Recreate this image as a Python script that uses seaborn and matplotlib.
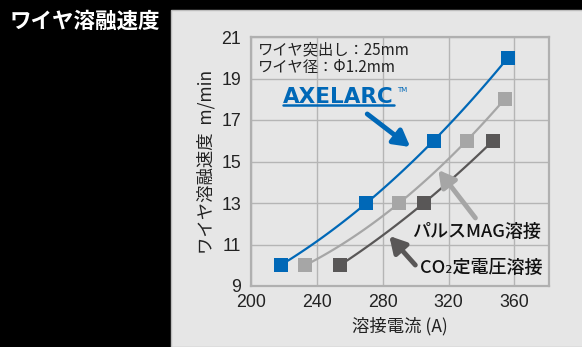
import matplotlib
matplotlib.use("Agg")
import matplotlib.pyplot as plt
import seaborn as sns
from matplotlib.patches import Rectangle

# data
current_axelarc = [218, 270, 311, 356]
speed_axelarc = [10, 13, 16, 20]
current_pulse = [233, 290, 331, 354]
speed_pulse = [10, 13, 16, 18]
current_co2 = [254, 305, 347]
speed_co2 = [10, 13, 16]

x_ticks = [200, 240, 280, 320, 360]
y_ticks = [9, 11, 13, 15, 17, 19, 21]

blue = "#0068b7"
light = "#a6a6a6"
dark = "#595757"

sns.set_theme(style="white")
plt.rcParams['font.family'] = ['Noto Sans CJK JP', 'DejaVu Sans']

fig = plt.figure(figsize=(5.82, 3.47), dpi=100, facecolor="black")
fig.patches.append(Rectangle((171 / 582, 0), 1, 337 / 347, transform=fig.transFigure,
                             facecolor="#e6e6e6", edgecolor="#bdbdbd", linewidth=1, zorder=-10))
fig.text(10 / 582, 1 - 21 / 347, "ワイヤ溶融速度", color="white", fontsize=15.5,
         fontweight="bold", va="center", ha="left")

ax = fig.add_axes([251 / 582, 61 / 347, 298 / 582, 249 / 347])
ax.set_facecolor("#e6e6e6")

for xs, ys, c in [(current_axelarc, speed_axelarc, blue),
                  (current_pulse, speed_pulse, light),
                  (current_co2, speed_co2, dark)]:
    sns.regplot(x=xs, y=ys, order=2, ci=None, scatter=False, ax=ax,
                line_kws=dict(color=c, linewidth=1.6, zorder=3))
    sns.scatterplot(x=xs, y=ys, marker="s", s=105, color=c, linewidth=0, ax=ax, zorder=4)

ax.set_xlim(200, 381)
ax.set_ylim(9, 21)
ax.set_xticks(x_ticks, labels=[str(v) for v in x_ticks], fontfamily="Liberation Sans")
ax.set_yticks(y_ticks, labels=[str(v) for v in y_ticks], fontfamily="Liberation Sans")
ax.grid(True, color="#b5b5b5", linewidth=1)
ax.set_axisbelow(True)
for s in ax.spines.values():
    s.set_color("#b0b0b0")
    s.set_linewidth(1.6)
ax.tick_params(length=0, labelsize=12.8, colors="#222222")
ax.tick_params(axis="x", pad=6)
ax.tick_params(axis="y", pad=7)
ax.set_xlabel("溶接電流 (A)", fontsize=12.5, color="#222222", labelpad=4)
ax.set_ylabel("ワイヤ溶融速度  m/min", fontsize=12.5, color="#222222", labelpad=4)

ax.text(204.3, 20.78, "ワイヤ突出し：25mm\nワイヤ径：Φ1.2mm", fontsize=11,
        color="#222222", va="top", ha="left", linespacing=1.02)

ax.text(219.5, 18.1, "AXELARC", fontsize=15.5, fontweight="heavy", color=blue,
        va="center", ha="left", family="DejaVu Sans")
ax.plot([219.5, 287.0], [17.72, 17.72], color=blue, linewidth=1.8)
ax.text(288.8, 18.45, "TM", fontsize=5, color=blue, va="center", ha="left", family="DejaVu Sans")

ax.annotate("", xy=(296.7, 15.7), xytext=(270.6, 17.29),
            arrowprops=dict(arrowstyle="-|>,head_length=0.8,head_width=0.45", color=blue,
                            lw=3.5, shrinkA=0, shrinkB=0))
ax.annotate("", xy=(313.8, 14.59), xytext=(336.3, 12.28),
            arrowprops=dict(arrowstyle="-|>,head_length=0.8,head_width=0.45", color=light,
                            lw=3.5, shrinkA=0, shrinkB=0))
ax.annotate("", xy=(284.0, 11.41), xytext=(299.8, 10.01),
            arrowprops=dict(arrowstyle="-|>,head_length=0.8,head_width=0.45", color=dark,
                            lw=3.5, shrinkA=0, shrinkB=0))

ax.text(297.9, 11.6, "パルスMAG溶接", fontsize=13, fontweight="medium", color="#111111",
        va="center", ha="left")
ax.text(302.8, 9.87, "CO₂定電圧溶接", fontsize=13, fontweight="medium", color="#111111",
        va="center", ha="left")

fig.savefig("out.png", dpi=100, facecolor=fig.get_facecolor())
